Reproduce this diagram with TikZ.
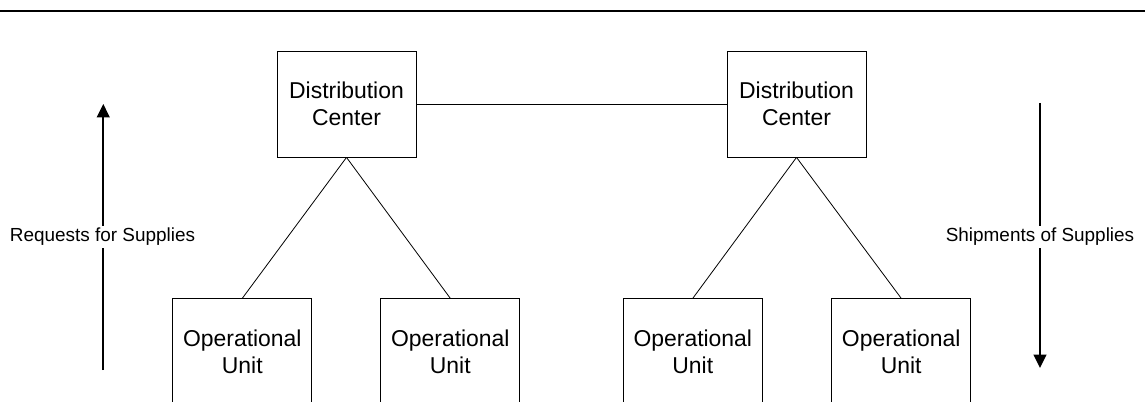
\documentclass[tikz,border=0pt]{standalone}
\usepackage{fontspec}
\setmainfont{Liberation Sans}
\usetikzlibrary{arrows.meta}
\begin{document}
\begin{tikzpicture}[x=0.75pt,y=-0.75pt,
  unitbox/.style={draw, line width=0.6pt, minimum width=104.25pt, minimum height=79.5pt,
    inner sep=0pt, align=center, font=\fontsize{17.2}{20.2}\selectfont},
  link/.style={line width=0.6pt},
  flow/.style={line width=1.4pt, -{Triangle[length=10pt,width=9.5pt]}},
  flowlabel/.style={fill=white, inner sep=1.5pt, font=\fontsize{14.2}{16}\selectfont}]
  \useasboundingbox (0,0) rectangle (1145,402);
  \clip (0,0) rectangle (1145,402);
  % heading rule
  \draw[line width=1.6pt] (0,11) -- (1145,11);
  % distribution centers
  \node[unitbox] (dcl) at (346.5,104) {Distribution\\Center};
  \node[unitbox] (dcr) at (796.5,104) {Distribution\\Center};
  \draw[link] (dcl) -- (dcr);
  % operational units
  \node[unitbox, anchor=north] (ou1) at (242.3,298.3) {Operational\\Unit};
  \node[unitbox, anchor=north] (ou2) at (450.3,298.3) {Operational\\Unit};
  \node[unitbox, anchor=north] (ou3) at (692.8,298.3) {Operational\\Unit};
  \node[unitbox, anchor=north] (ou4) at (901.2,298.3) {Operational\\Unit};
  \draw[link] (dcl.south) -- (ou1.north);
  \draw[link] (dcl.south) -- (ou2.north);
  \draw[link] (dcr.south) -- (ou3.north);
  \draw[link] (dcr.south) -- (ou4.north);
  % flow arrows
  \coordinate (reqlo) at (103.3,370);
  \coordinate (reqhi) at (103.3,104);
  \coordinate (shiphi) at (1040,103);
  \coordinate (shiplo) at (1040,368);
  \draw[flow] (reqlo) -- (reqhi);
  \draw[flow] (shiphi) -- (shiplo);
  \node[flowlabel] (req) at (102.5,237) {Requests for Supplies};
  \node[flowlabel] (ship) at (1040,237) {Shipments of Supplies};
\end{tikzpicture}
\end{document}
